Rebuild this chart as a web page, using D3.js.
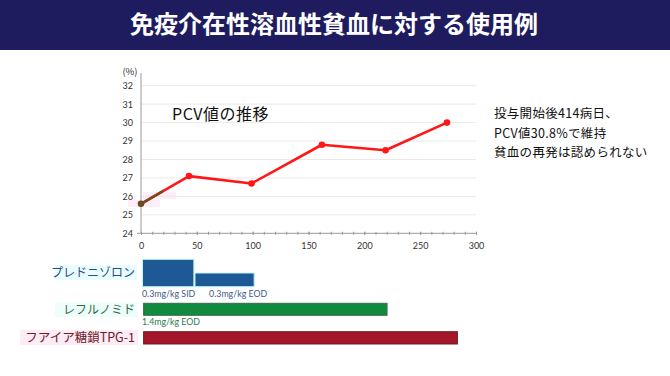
<!DOCTYPE html>
<html><head><meta charset="utf-8">
<script src="https://cdn.jsdelivr.net/npm/d3@7"></script>
<style>
html,body{margin:0;padding:0;background:#fff;}
svg{display:block;font-family:"Noto Sans CJK JP","Noto Sans",sans-serif;}
</style></head>
<body><svg id="c" width="670" height="376"></svg>
<script>
const title = "免疫介在性溶血性貧血に対する使用例";
const days = [0, 43, 99, 162, 219, 274];
const pcv = [25.6, 27.1, 26.7, 28.8, 28.5, 30.0];
const xTicks = [0, 50, 100, 150, 200, 250, 300];
const yTicks = [24, 25, 26, 27, 28, 29, 30, 31, 32];
const chartLabel = "PCV値の推移";
const noteLines = ["投与開始後414病日、", "PCV値30.8%で維持", "貧血の再発は認められない"];
const drugs = ["プレドニゾロン", "レフルノミド", "フアイア糖鎖TPG-1"];
const drugColors = ["#1d5a95", "#0f8a3e", "#a3162b"];
const labelColors = ["#2b4a86", "#2f6a45", "#6a1a28"];
const segments = [
  {drug: 0, start: 0, end: 46, level: "full", dose: "0.3mg/kg SID"},
  {drug: 0, start: 47, end: 100, level: "half", dose: "0.3mg/kg EOD"},
  {drug: 1, start: 1, end: 219, level: "full", dose: "1.4mg/kg EOD"},
  {drug: 2, start: 1, end: 282, level: "full", dose: ""}
];

const svg = d3.select("#c");
svg.append("rect").attr("x",0).attr("y",0).attr("width",670).attr("height",50).attr("fill","#1f1b5f");
svg.append("text").attr("x",334).attr("y",33).attr("text-anchor","middle")
  .attr("fill","#fff").attr("font-size",24).attr("font-weight","bold").text(title);

const x = d3.scaleLinear().domain([0,300]).range([141,476]);
const y = d3.scaleLinear().domain([24,32]).range([233.3,85.7]);

// faint highlight artifacts
svg.append("rect").attr("x",128).attr("y",200).attr("width",32).attr("height",7).attr("fill","#fdeef9");
svg.append("rect").attr("x",143).attr("y",192).attr("width",33).attr("height",7).attr("fill","#fdeef9");

// gridlines
svg.append("g").selectAll("line").data(yTicks.slice(1)).join("line")
  .attr("x1",x(0)).attr("x2",x(300)).attr("y1",d=>y(d)).attr("y2",d=>y(d))
  .attr("stroke","#e9e9e9").attr("stroke-width",1);

// y axis
const yAxis = d3.axisLeft(y).tickValues(yTicks).tickSize(0).tickPadding(8).tickFormat(d3.format("d"));
const gy = svg.append("g").attr("transform",`translate(${x(0)},0)`).call(yAxis);
gy.select(".domain").attr("stroke","#999").attr("d",`M0,${y(24)}V73`);
gy.selectAll("text").attr("font-size",9).attr("fill","#333").attr("font-family","Lato, 'Noto Sans', sans-serif");
svg.append("text").attr("x",130).attr("y",75).attr("text-anchor","middle").attr("font-size",9.5).attr("fill","#333").text("(%)");

// x axis
const xAxisMinor = d3.axisBottom(x).tickValues(d3.range(0,301,10)).tickSize(3).tickFormat("");
const gxm = svg.append("g").attr("transform",`translate(0,${y(24)})`).call(xAxisMinor);
gxm.select(".domain").remove();
gxm.selectAll("line").attr("stroke","#999").attr("transform","translate(0,-1.5)");
const xAxis = d3.axisBottom(x).tickValues(xTicks).tickSize(3).tickPadding(6);
const gx = svg.append("g").attr("transform",`translate(0,${y(24)})`).call(xAxis);
gx.select(".domain").attr("stroke","#999").attr("d",`M${x(0)-4},0H${x(300)}`);
gx.selectAll("line").attr("stroke","#999").attr("transform","translate(0,-1.5)");
gx.selectAll("text").attr("font-size",9).attr("fill","#333").attr("font-family","Lato, 'Noto Sans', sans-serif");

// line
const pts = days.map((d,i)=>[d,pcv[i]]);
const line = d3.line().x(d=>x(d[0])).y(d=>y(d[1]));
svg.append("path").datum(pts).attr("d",line).attr("fill","none").attr("stroke","#ff1717").attr("stroke-width",2.6).attr("stroke-linejoin","round");
svg.append("defs").append("clipPath").attr("id","clipb").append("rect")
  .attr("x",x(0)-5).attr("y",0).attr("width",x(20)-x(0)+5).attr("height",376);
svg.append("path").datum(pts).attr("d",line).attr("fill","none").attr("stroke","#7a4a1e").attr("stroke-width",2.6).attr("clip-path","url(#clipb)");
svg.append("g").selectAll("circle").data(pts).join("circle")
  .attr("cx",d=>x(d[0])).attr("cy",d=>y(d[1])).attr("r",3.3)
  .attr("fill",(d,i)=>i===0?"#6e4a1e":"#ff1717");

svg.append("text").attr("x",172).attr("y",120).attr("font-size",16).attr("letter-spacing",0.5).attr("fill","#111").text(chartLabel);

svg.append("g").selectAll("text").data(noteLines).join("text")
  .attr("x",494).attr("y",(d,i)=>118+i*19.5).attr("font-size",12.5).attr("letter-spacing",0.3).attr("fill","#111").text(d=>d);

// regimen bars
const rowTop = [259.3, 303.3, 331.7];
const rowH = [27.4, 12, 12.3];
const labelY = [277, 314, 342];
const bgCols = ["#eafdfe", "#edfefb", "#fdebf6"];
svg.append("g").selectAll("rect").data(drugs).join("rect")
  .attr("x",(d,i)=>i===2?20:55).attr("y",(d,i)=>labelY[i]-12).attr("width",(d,i)=>i===2?118:82).attr("height",15)
  .attr("fill",(d,i)=>bgCols[i]);
svg.append("g").selectAll("text").data(drugs).join("text")
  .attr("x",135).attr("y",(d,i)=>labelY[i]).attr("text-anchor","end").attr("font-size",(d,i)=>i===2?12.5:12)
  .attr("fill",(d,i)=>labelColors[i]).text(d=>d);

const segY = s => s.level==="half" ? rowTop[s.drug]+rowH[s.drug]/2 : rowTop[s.drug];
const segH = s => s.level==="half" ? rowH[s.drug]/2 : rowH[s.drug];
svg.append("g").selectAll("rect").data(segments).join("rect")
  .attr("x",s=>x(s.start)+1.5).attr("y",s=>segY(s)).attr("width",s=>x(s.end)-x(s.start)).attr("height",segH)
  .attr("fill",s=>drugColors[s.drug])
  .attr("stroke",s=>s.drug===0?"#bff3f7":(s.drug===1?"#3a6a4a":"#6a1e22")).attr("stroke-width",1);

svg.append("g").selectAll("text").data(segments.filter(s=>s.dose)).join("text")
  .attr("x",(s,i)=> s.drug===0 && s.start>0 ? x(61) : x(0)+1)
  .attr("y",s=>s.drug===0?297:325).attr("font-size",8.8)
  .attr("fill",s=>s.drug===0?"#3d5a8a":"#2d7a4e").attr("font-family","Lato, 'Noto Sans', sans-serif")
  .text(s=>s.dose);
</script></body></html>
